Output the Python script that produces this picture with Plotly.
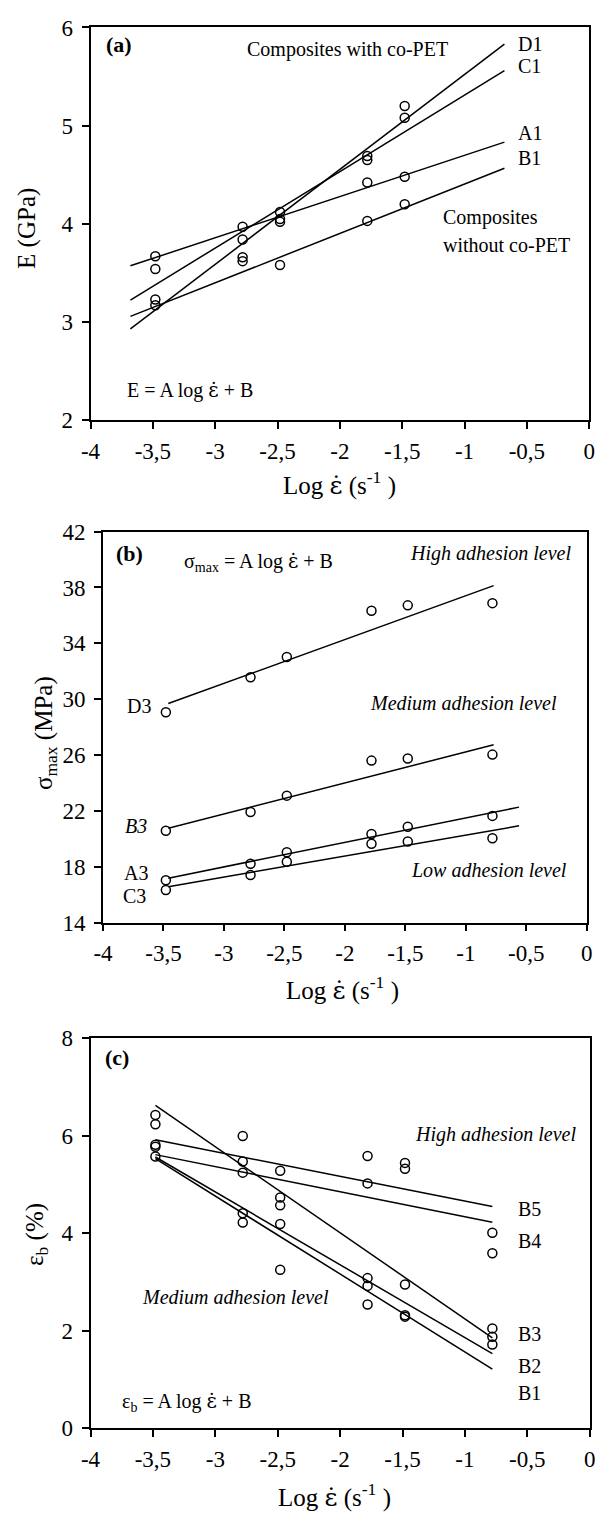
import plotly.graph_objects as go

FONT = "Liberation Serif"
EPSD = '<span style="font-family:DejaVu Serif">\u03b5\u0307</span>'  # epsilon with dot above

# ---------------- tick labels ----------------
x_tickvals = [-4, -3.5, -3, -2.5, -2, -1.5, -1, -0.5, 0]
x_ticktext = ["-4", "-3,5", "-3", "-2,5", "-2", "-1,5", "-1", "-0,5", "0"]
a_yticks = [2, 3, 4, 5, 6]
b_yticks = [14, 18, 22, 26, 30, 34, 38, 42]
c_yticks = [0, 2, 4, 6, 8]

# ---------------- panel (a): E (GPa) ----------------
a_x = [-3.48, -2.78, -2.48, -1.78, -1.48]
a_series = ["A1", "B1", "C1", "D1"]
a_A1 = [3.67, 3.97, 4.02, 4.42, 4.48]
a_B1 = [3.17, 3.62, 3.58, 4.03, 4.20]
a_C1 = [3.54, 3.84, 4.12, 4.65, 5.08]
a_D1 = [3.23, 3.66, 4.05, 4.69, 5.20]
a_slope = [0.420, 0.503, 0.779, 0.967]
a_icpt = [5.118, 4.908, 6.090, 6.488]
a_fit_x = [-3.68, -0.68]

# ---------------- panel (b): sigma_max (MPa) ----------------
b_x = [-3.48, -2.78, -2.48, -1.78, -1.48, -0.78]
b_series = ["D3", "B3", "A3", "C3"]
b_D3 = [29.06, 31.57, 33.02, 36.34, 36.72, 36.88]
b_B3 = [20.58, 21.92, 23.09, 25.60, 25.75, 26.03]
b_A3 = [17.03, 18.21, 19.03, 20.34, 20.86, 21.64]
b_C3 = [16.33, 17.41, 18.35, 19.64, 19.81, 20.04]
b_slope = [3.14, 2.226, 1.754, 1.503]
b_icpt = [40.55, 28.45, 23.25, 21.77]
b_fit_x0 = [-3.46, -3.46, -3.46, -3.46]
b_fit_x1 = [-0.77, -0.77, -0.56, -0.56]

# ---------------- panel (c): eps_b (%) ----------------
c_x = [-3.48, -2.78, -2.48, -1.78, -1.48, -0.78]
c_series = ["B1", "B2", "B3", "B4", "B5"]
c_B1 = [5.57, 4.22, 3.25, 2.54, 2.29, 1.72]
c_B2 = [6.23, 4.41, 4.19, 2.92, 2.32, 1.88]
c_B3 = [6.42, 5.99, 4.73, 3.08, 2.95, 2.05]
c_B4 = [5.77, 5.24, 4.57, 5.02, 5.32, 3.59]
c_B5 = [5.81, 5.47, 5.28, 5.58, 5.44, 4.01]
c_slope = [-1.596, -1.492, -1.763, -0.513, -0.506]
c_icpt = [-0.028, 0.369, 0.482, 3.824, 4.152]
c_fit_x = [-3.48, -0.78]

fig = go.Figure()

MARK = dict(symbol="circle-open", size=9, color="black", line=dict(width=1.5, color="black"))
LINE = dict(color="black", width=1.5)


def add_panel(xs, ys_list, slopes, icpts, x0s, x1s, xa, ya):
    for i, ys in enumerate(ys_list):
        xl = [x0s[i], x1s[i]]
        yl = [slopes[i] * v + icpts[i] for v in xl]
        fig.add_trace(go.Scatter(x=xl, y=yl, mode="lines", line=LINE,
                                 xaxis=xa, yaxis=ya, hoverinfo="skip"))
    for ys in ys_list:
        fig.add_trace(go.Scatter(x=xs, y=ys, mode="markers", marker=MARK,
                                 xaxis=xa, yaxis=ya))


add_panel(a_x, [a_A1, a_B1, a_C1, a_D1], a_slope, a_icpt,
          [a_fit_x[0]] * 4, [a_fit_x[1]] * 4, "x", "y")
add_panel(b_x, [b_D3, b_B3, b_A3, b_C3], b_slope, b_icpt,
          b_fit_x0, b_fit_x1, "x2", "y2")
add_panel(c_x, [c_B1, c_B2, c_B3, c_B4, c_B5], c_slope, c_icpt,
          [c_fit_x[0]] * 5, [c_fit_x[1]] * 5, "x3", "y3")

TICKFONT = dict(family=FONT, size=23, color="black")


def xaxis(domain, anchor):
    return dict(domain=domain, anchor=anchor, range=[-4, 0], tickvals=x_tickvals,
                ticktext=x_ticktext, ticks="outside", ticklen=7, tickwidth=1.5,
                tickcolor="black", showline=True, mirror=True, linecolor="black",
                linewidth=1.8, showgrid=False, zeroline=False, tickfont=TICKFONT,
                ticklabelstandoff=2)


def yaxis(domain, anchor, rng, ticks):
    return dict(domain=domain, anchor=anchor, range=rng, tickvals=ticks,
                ticktext=[str(t) for t in ticks], ticks="outside", ticklen=7,
                tickwidth=1.5, tickcolor="black", showline=True, mirror=True,
                linecolor="black", linewidth=1.8, showgrid=False, zeroline=False,
                tickfont=TICKFONT, ticklabelstandoff=4)


W, H = 603, 1528
px = lambda v: v / W
py = lambda v: 1 - v / H

fig.update_layout(
    width=W, height=H, margin=dict(l=0, r=0, t=0, b=0),
    paper_bgcolor="white", plot_bgcolor="white", showlegend=False,
    font=dict(family=FONT, color="black", size=20),
    xaxis=xaxis([px(82.7), px(595.0)], "y"),
    yaxis=yaxis([py(415.0), py(15.7)], "x", [2, 6], a_yticks),
    xaxis2=xaxis([px(95.5), px(592.5)], "y2"),
    yaxis2=yaxis([py(925.7), py(528.3)], "x2", [14, 42], b_yticks),
    xaxis3=xaxis([px(82.7), px(595.5)], "y3"),
    yaxis3=yaxis([py(1440.0), py(1043.0)], "x3", [0, 8], c_yticks),
)

ANN = dict(family=FONT, size=20, color="black")
ANNI = dict(family=FONT, size=20, color="black", style="italic")
BOLD = dict(family=FONT, size=22, color="black")
TITLE = dict(family=FONT, size=25, color="black")


def note(text, x, y, xr, yr, xanchor="center", font=ANN, textangle=0):
    fig.add_annotation(text=text, x=x, y=y, xref=xr, yref=yr, xanchor=xanchor,
                       yanchor="middle", showarrow=False, font=font,
                       textangle=textangle)


# panel (a) texts
note("<b>(a)</b>", -3.89, 5.83, "x", "y", "left", BOLD)
note("Composites with co-PET", -1.94, 5.78, "x", "y")
note("D1", -0.59, 5.83, "x", "y", "left")
note("C1", -0.59, 5.61, "x", "y", "left")
note("A1", -0.59, 4.92, "x", "y", "left")
note("B1", -0.59, 4.67, "x", "y", "left")
note("Composites", -1.19, 4.06, "x", "y", "left")
note("without co-PET", -1.19, 3.78, "x", "y", "left")
note("E = A log " + EPSD + " + B", -3.72, 2.31, "x", "y", "left")

# panel (b) texts
note("<b>(b)</b>", -3.91, 40.47, "x2", "y2", "left", BOLD)
note("\u03c3<sub>max</sub> = A log " + EPSD + " + B", -3.35, 39.8, "x2", "y2", "left")
note("High adhesion level", -0.11, 40.4, "x2", "y2", "right", ANNI)
note("Medium adhesion level", -0.23, 29.74, "x2", "y2", "right", ANNI)
note("Low adhesion level", -0.15, 17.8, "x2", "y2", "right", ANNI)
note("D3", -3.59, 29.5, "x2", "y2", "right")
note("B3", -3.62, 20.93, "x2", "y2", "right", ANNI)
note("A3", -3.61, 17.55, "x2", "y2", "right")
note("C3", -3.63, 15.93, "x2", "y2", "right")

# panel (c) texts
note("<b>(c)</b>", -3.90, 7.59, "x3", "y3", "left", BOLD)
note("High adhesion level", -0.09, 6.03, "x3", "y3", "right", ANNI)
note("Medium adhesion level", -3.60, 2.69, "x3", "y3", "left", ANNI)
note("B5", -0.59, 4.49, "x3", "y3", "left")
note("B4", -0.59, 3.84, "x3", "y3", "left")
note("B3", -0.59, 1.93, "x3", "y3", "left")
note("B2", -0.59, 1.27, "x3", "y3", "left")
note("B1", -0.59, 0.72, "x3", "y3", "left")
note("\u03b5<sub>b</sub> = A log " + EPSD + " + B", -3.76, 0.54, "x3", "y3", "left")

# axis titles (paper coordinates)
xtitle = "Log " + EPSD + " (s<sup>-1</sup> )"
note(xtitle, px(338), py(479), "paper", "paper", "center", TITLE)
note(xtitle, px(342), py(993), "paper", "paper", "center", TITLE)
note(xtitle, px(333), py(1508), "paper", "paper", "center", TITLE)
note("E (GPa)", px(18), py(220), "paper", "paper", "center", TITLE, -90)
note("\u03c3<sub>max</sub> (MPa)", px(36), py(733), "paper", "paper", "center", TITLE, -90)
note("\u03b5<sub>b</sub> (%)", px(27), py(1243), "paper", "paper", "center", TITLE, -90)

fig.write_html("out.html")
